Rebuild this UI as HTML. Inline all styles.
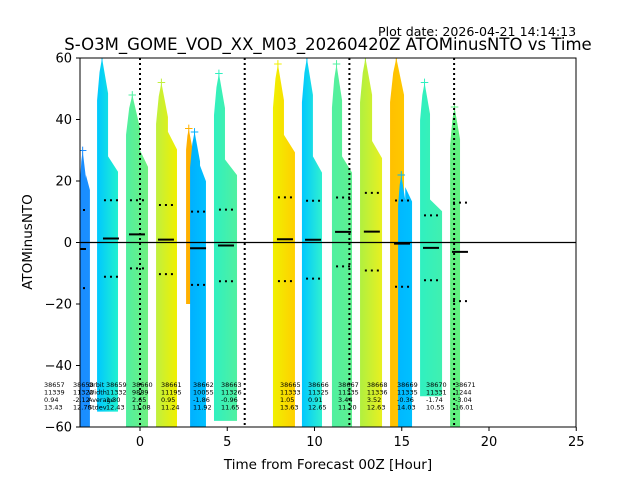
<!DOCTYPE html>
<html><head><meta charset="utf-8"><style>
body{margin:0;background:#fff;}
svg{display:block;font-family:"DejaVu Sans","Liberation Sans",sans-serif;}
</style></head><body>
<svg id="chart" width="640" height="480" viewBox="0 0 640 480">
<defs id="defs"><clipPath id="clip"><rect x="80" y="58" width="496" height="369"/></clipPath></defs>
<text x="378" y="36" font-size="12.6">Plot date: 2026-04-21 14:14:13</text>
<text x="328" y="50" font-size="16.5" text-anchor="middle">S-O3M_GOME_VOD_XX_M03_20260420Z ATOMinusNTO vs Time</text>
<g id="marks" clip-path="url(#clip)"></g>
<g id="overlay"></g>
<rect x="80" y="58" width="496" height="369" fill="none" stroke="#000" stroke-width="1"/>
<g id="axes"></g>
<text x="328" y="469" font-size="13.5" text-anchor="middle">Time from Forecast 00Z [Hour]</text>
<text transform="translate(32,242) rotate(-90)" font-size="13.5" text-anchor="middle">ATOMinusNTO</text>
</svg>
<script>
const xTicks=[0,5,10,15,20,25];
const yTicks=[-60,-40,-20,0,20,40,60];
const vLines=[0,6,12,18];
// strips
const stripStart=[-3.44,-2.46,-0.80,0.92,2.64,2.87,4.24,7.62,9.28,11.0,12.61,14.33,14.79,16.05,17.77];
const stripSplit=[-3.1,-1.83,0.0,1.60,2.98,3.44,4.87,8.25,9.91,11.58,13.30,15.13,15.2,16.62,18.34];
const stripEnd=[-2.87,-1.26,0.46,2.12,2.98,3.78,5.56,8.88,10.43,12.15,13.87,15.13,15.59,17.31,18.34];
const stripTopL=[30,60,48,52,37,36,55,58,60,58,60,60,22,52,44];
const stripTopR=[22,28,30,36,37,25,27,35,28,28,33,60,18,14,44];
const stripBottom=[-60,-55,-60,-60,-20,-60,-58,-60,-60,-60,-60,-60,-60,-50,-60];
const colorA=["#1a8cff","#00c8ff","#50f0a0","#c0f040","#ffb000","#00b0ff","#30f0c0","#f0f000","#00c8ff","#50f0a0","#b0f040","#ffc000","#00b8ff","#30f0c0","#60f080"];
const colorB=["#1a90ff","#20f0d0","#70f080","#f0f000","#ffb000","#00c0ff","#50f0a0","#ffd000","#30f0d0","#60f090","#e8f020","#ffc800","#00c0ff","#40f0b0","#60f080"];
// orbit stats
const orbitIds=["38657","38658","38659","38660","38661","38662","38663","38665","38666","38667","38668","38669","38670","38671"];
const orbitWidth=["11339","11322","11332","9889","11195","10055","11326","11333","11325","11335","11336","11335","11331","1244"];
const orbitAvg=[0.94,-2.12,1.30,2.65,0.95,-1.86,-0.96,1.05,0.91,3.44,3.52,-0.36,-1.74,-3.04];
const orbitStd=[13.43,12.70,12.43,11.08,11.24,11.92,11.65,13.63,12.65,11.20,12.63,14.03,10.55,16.01];
const orbitHour=[-5.5,-3.84,-1.95,-0.46,1.2,3.04,4.64,8.02,9.63,11.35,13.0,14.73,16.39,18.05];

const NS="http://www.w3.org/2000/svg";
const X=h=>140+h*17.45;
const Y=v=>242.5-v*3.075;
function mk(t,a,p){const e=document.createElementNS(NS,t);for(const k in a)e.setAttribute(k,a[k]);p.appendChild(e);return e;}
const defs=document.getElementById('defs'),marks=document.getElementById('marks'),ov=document.getElementById('overlay'),axes=document.getElementById('axes');

for(let i=0;i<stripStart.length;i++){
  const g=mk('linearGradient',{id:'g'+i,x1:'0',x2:'1',y1:'0',y2:'0'},defs);
  mk('stop',{offset:'0','stop-color':colorA[i]},g);mk('stop',{offset:'1','stop-color':colorB[i]},g);
  const x0=X(stripStart[i]),xs=X(stripSplit[i]),x1=X(stripEnd[i]),yb=Y(stripBottom[i]);
  const yl=Y(stripTopL[i]),yr=Y(stripTopR[i]);
  const xp=x0+(xs-x0)*0.45;
  const pts=[[x0,yb],[x0,yl+(yb-yl)*0.12],[x0+(xp-x0)*0.5,yl+(yb-yl)*0.04],[xp,yl],[xp+(xs-xp)*0.5,yl+(yb-yl)*0.05],[xs,yl+(yb-yl)*0.1],[xs,yr],[x1,yr+(yb-yr)*0.06],[x1,yb]];
  const p=mk('polygon',{points:pts.map(q=>q.join(',')).join(' '),fill:'url(#g'+i+')'},marks);
  
  
  const t=mk('text',{x:xp,y:yl+4,'font-size':'12','text-anchor':'middle',fill:colorA[i]},marks);
  t.textContent='+';
  
  
}
// mean & std markers
for(let i=0;i<orbitIds.length;i++){
  const cx=X(orbitHour[i])+5;
  const m=mk('line',{x1:cx-8,x2:cx+8,y1:Y(orbitAvg[i]),y2:Y(orbitAvg[i]),stroke:'#000','stroke-width':2},marks);
  
  
  [orbitAvg[i]+orbitStd[i],orbitAvg[i]-orbitStd[i]].forEach(v=>{
    const d=mk('line',{x1:cx-7,x2:cx+8,y1:Y(v),y2:Y(v),stroke:'#000','stroke-width':2,'stroke-dasharray':'2,4'},marks);
    
    
  });
  const rows=[orbitIds[i],orbitWidth[i],orbitAvg[i].toFixed(2),orbitStd[i].toFixed(2)];
  rows.forEach((r,j)=>{const t=mk('text',{x:X(orbitHour[i]),y:387+j*7.5,'font-size':'6.5',fill:'#000'},ov);t.textContent=r;
    
    });
}
['Orbit','Width','Average','Stdev'].forEach((r,j)=>{const t=mk('text',{x:88,y:387+j*7.5,'font-size':'6.5'},ov);t.textContent=r;
  
  });
// zero line and vertical dotted lines
const z=mk('line',{x1:80,x2:576,y1:Y(0),y2:Y(0),stroke:'#000','stroke-width':1.2},marks);


vLines.forEach(h=>{const l=mk('line',{x1:X(h),x2:X(h),y1:58,y2:427,stroke:'#000','stroke-width':2,'stroke-dasharray':'2,3'},marks);
  
  });
// axes ticks
xTicks.forEach(v=>{const x=X(v);mk('line',{x1:x,x2:x,y1:427,y2:431,stroke:'#000'},axes);
  const t=mk('text',{x:x,y:446,'font-size':'13','text-anchor':'middle'},axes);t.textContent=v;
  
  });
yTicks.forEach(v=>{const y=Y(v);mk('line',{x1:76,x2:80,y1:y,y2:y,stroke:'#000'},axes);
  const t=mk('text',{x:72,y:y+4.5,'font-size':'13','text-anchor':'end'},axes);t.textContent=v<0?'\u2212'+Math.abs(v):v;
  
  });
</script>
</body></html>
